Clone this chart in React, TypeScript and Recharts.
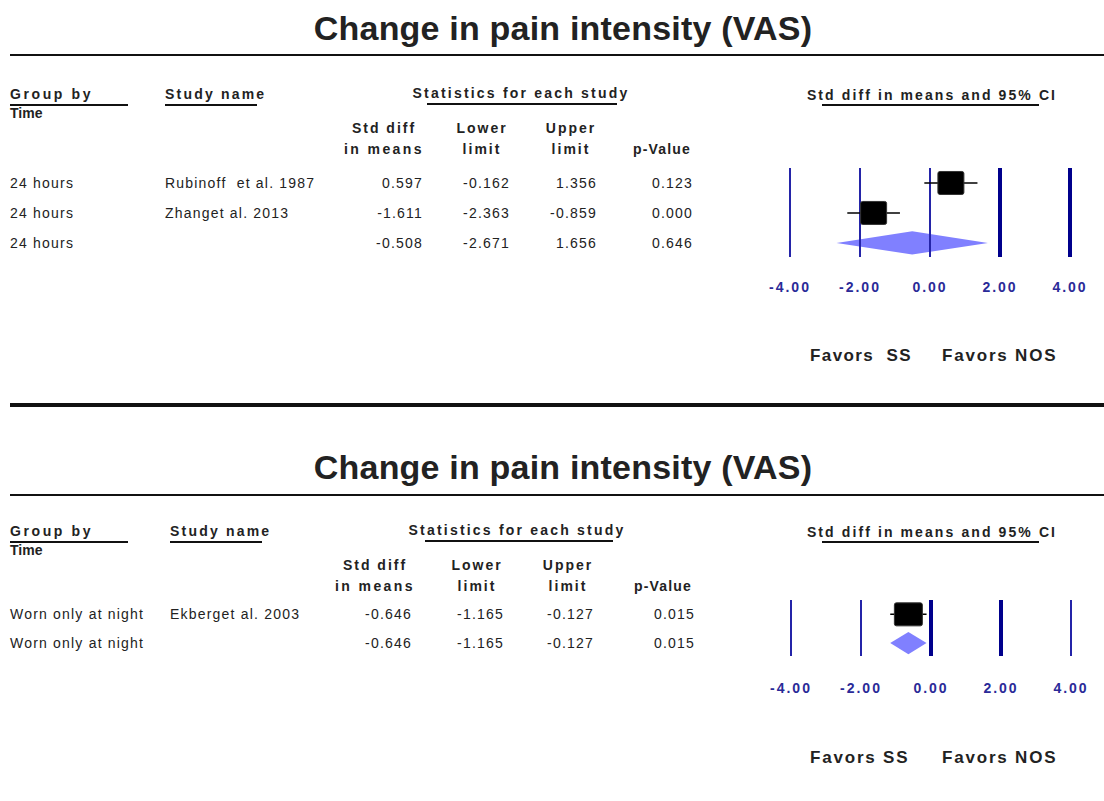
import React from 'react';
import {
  ComposedChart,
  XAxis,
  YAxis,
  Scatter,
  Area,
  ReferenceLine,
} from 'recharts';

// axis ticks shared by both panels
const TICKS = [-4, -2, 0, 2, 4];

// panel 1: 24 hours
const TOP_GROUPS = ['24 hours', '24 hours', '24 hours'];
const TOP_NAMES = ['Rubinoff  et al. 1987', 'Zhanget al. 2013', ''];
const TOP_SMD = [0.597, -1.611, -0.508];
const TOP_LOWER = [-0.162, -2.363, -2.671];
const TOP_UPPER = [1.356, -0.859, 1.656];
const TOP_P = ['0.123', '0.000', '0.646'];

// panel 2: worn only at night
const BOT_GROUPS = ['Worn only at night', 'Worn only at night'];
const BOT_NAMES = ['Ekberget al. 2003', ''];
const BOT_SMD = [-0.646, -0.646];
const BOT_LOWER = [-1.165, -1.165];
const BOT_UPPER = [-0.127, -0.127];
const BOT_P = ['0.015', '0.015'];

const FONT = '"Liberation Sans", Arial, sans-serif';
const TEXT = '#222';
const AXIS_BLUE = '#2a2a98';

type Anchor = 'start' | 'middle' | 'end';

function T({
  x,
  y,
  children,
  anchor = 'start',
  size = 14,
  bold = false,
  spacing,
}: {
  x: number;
  y: number;
  children: React.ReactNode;
  anchor?: Anchor;
  size?: number;
  bold?: boolean;
  spacing?: number;
}) {
  const tx = anchor === 'start' ? '0' : anchor === 'middle' ? '-50%' : '-100%';
  const ls = spacing ?? (bold ? 2 : 1.2);
  return (
    <div
      style={{
        position: 'absolute',
        left: x,
        top: y,
        transform: `translate(${tx}, -50%)`,
        whiteSpace: 'pre',
        fontFamily: FONT,
        fontSize: size,
        fontWeight: bold ? 700 : 400,
        letterSpacing: ls,
        marginRight: anchor === 'end' ? -ls : 0,
        color: TEXT,
        lineHeight: 1,
      }}
    >
      {children}
    </div>
  );
}

function HLine({ x1, x2, y, w = 2 }: { x1: number; x2: number; y: number; w?: number }) {
  return (
    <div
      style={{
        position: 'absolute',
        left: x1,
        top: y - w / 2,
        width: x2 - x1,
        height: w,
        background: '#111',
      }}
    />
  );
}

interface PlotProps {
  left: number;
  top: number;
  plotHeight: number;
  yDomain: [number, number];
  smd: number[];
  lower: number[];
  upper: number[];
  thick: number[];
  boxW: number;
  boxH: number;
  tickMargin: number;
}

function ForestPlot({
  left,
  top,
  plotHeight,
  yDomain,
  smd,
  lower,
  upper,
  thick,
  boxW,
  boxH,
  tickMargin,
}: PlotProps) {
  const n = smd.length;
  const studies = smd.slice(0, n - 1).map((v, i) => ({ x: v, y: i + 1 }));
  const r = n;
  const half = 0.39;
  const diamond = [
    { x: lower[n - 1], band: [r, r] },
    { x: smd[n - 1], band: [r - half, r + half] },
    { x: upper[n - 1], band: [r, r] },
  ];
  const marginTop = 10;
  return (
    <div style={{ position: 'absolute', left, top }}>
      <ComposedChart
        width={340}
        height={marginTop + plotHeight + 40}
        margin={{ top: marginTop, right: 30, left: 30, bottom: 0 }}
      >
        <XAxis
          type="number"
          dataKey="x"
          domain={[-4, 4]}
          ticks={TICKS}
          tickFormatter={(v: number) => v.toFixed(2)}
          axisLine={false}
          tickLine={false}
          tickSize={0}
          tickMargin={tickMargin}
          height={40}
          allowDataOverflow
          tick={{
            fill: AXIS_BLUE,
            fontSize: 14,
            fontWeight: 700,
            fontFamily: FONT,
            letterSpacing: 2,
          }}
        />
        <YAxis type="number" dataKey="y" domain={yDomain} reversed hide allowDataOverflow />
        {TICKS.map((t) => (
          <ReferenceLine
            key={t}
            x={t}
            stroke={thick.includes(t) ? '#00008c' : '#2424a8'}
            strokeWidth={thick.includes(t) ? 4 : 2}
          />
        ))}
        <Area
          data={diamond}
          dataKey="band"
          type="linear"
          fill="#8080ff"
          fillOpacity={1}
          stroke="none"
          isAnimationActive={false}
        />
        {studies.map((s, i) => (
          <ReferenceLine
            key={`ci${i}`}
            segment={[
              { x: lower[i], y: s.y },
              { x: upper[i], y: s.y },
            ]}
            stroke="#000"
            strokeWidth={1.5}
          />
        ))}
        <Scatter
          data={studies}
          fill="#000"
          isAnimationActive={false}
          shape={(p: any) => (
            <rect
              x={p.cx - boxW / 2}
              y={p.cy - boxH / 2}
              width={boxW}
              height={boxH}
              rx={2}
              fill="#000"
              stroke="#333"
            />
          )}
        />
      </ComposedChart>
    </div>
  );
}

interface PanelProps {
  y0: number;
  studyX: number;
  statsCenter: number;
  statsLine: [number, number];
  colCenters: number[];
  colRights: number[];
  groups: string[];
  names: string[];
  smd: number[];
  lower: number[];
  upper: number[];
  p: string[];
  rowY: number[];
}

function Table({
  y0,
  studyX,
  statsCenter,
  statsLine,
  colCenters,
  colRights,
  groups,
  names,
  smd,
  lower,
  upper,
  p,
  rowY,
}: PanelProps) {
  const fmt = (v: number) => v.toFixed(3);
  return (
    <>
      <T x={10} y={y0} bold spacing={2.6}>
        Group by
      </T>
      <HLine x1={10} x2={128} y={y0 + 11} />
      <T x={10} y={y0 + 19} bold spacing={0}>
        Time
      </T>
      <T x={studyX} y={y0} bold spacing={2.2}>
        Study name
      </T>
      <HLine x1={studyX} x2={studyX + 92} y={y0 + 11} />
      <T x={statsCenter} y={y0 - 1} anchor="middle" bold spacing={2.2}>
        Statistics for each study
      </T>
      <HLine x1={statsLine[0]} x2={statsLine[1]} y={y0 + 10} />
      <T x={colCenters[0]} y={y0 + 34} anchor="middle" bold>
        Std diff
      </T>
      <T x={colCenters[0]} y={y0 + 55} anchor="middle" bold spacing={2.4}>
        in means
      </T>
      <T x={colCenters[1]} y={y0 + 34} anchor="middle" bold>
        Lower
      </T>
      <T x={colCenters[1]} y={y0 + 55} anchor="middle" bold>
        limit
      </T>
      <T x={colCenters[2]} y={y0 + 34} anchor="middle" bold>
        Upper
      </T>
      <T x={colCenters[2]} y={y0 + 55} anchor="middle" bold>
        limit
      </T>
      <T x={colCenters[3]} y={y0 + 55} anchor="middle" bold spacing={1.2}>
        p-Value
      </T>
      {rowY.map((ry, i) => (
        <React.Fragment key={i}>
          <T x={10} y={ry}>
            {groups[i]}
          </T>
          <T x={studyX} y={ry}>
            {names[i]}
          </T>
          <T x={colRights[0]} y={ry} anchor="end">
            {fmt(smd[i])}
          </T>
          <T x={colRights[1]} y={ry} anchor="end">
            {fmt(lower[i])}
          </T>
          <T x={colRights[2]} y={ry} anchor="end">
            {fmt(upper[i])}
          </T>
          <T x={colRights[3]} y={ry} anchor="end">
            {p[i]}
          </T>
        </React.Fragment>
      ))}
      <T x={932} y={y0 + 1} anchor="middle" bold spacing={2.1}>
        Std diff in means and 95% CI
      </T>
      <HLine x1={822} x2={1039} y={y0 + 11} />
    </>
  );
}

export default function App() {
  return (
    <div
      style={{
        position: 'absolute',
        left: 0,
        top: 0,
        width: 1104,
        height: 801,
        background: '#fff',
        overflow: 'hidden',
      }}
    >
      {/* panel 1 */}
      <T x={563} y={28} anchor="middle" size={34} bold spacing={0.2}>
        Change in pain intensity (VAS)
      </T>
      <HLine x1={10} x2={1104} y={55} />
      <Table
        y0={94}
        studyX={165}
        statsCenter={521}
        statsLine={[427, 617]}
        colCenters={[384, 482, 571, 662]}
        colRights={[423, 510, 597, 693]}
        groups={TOP_GROUPS}
        names={TOP_NAMES}
        smd={TOP_SMD}
        lower={TOP_LOWER}
        upper={TOP_UPPER}
        p={TOP_P}
        rowY={[183, 213, 243]}
      />
      <ForestPlot
        left={760}
        top={158}
        plotHeight={89}
        yDomain={[0.5, 3.47]}
        smd={TOP_SMD}
        lower={TOP_LOWER}
        upper={TOP_UPPER}
        thick={[2, 4]}
        boxW={26}
        boxH={23}
        tickMargin={25}
      />
      <T x={810} y={355} size={17} bold spacing={1.4}>
        Favors  SS
      </T>
      <T x={942} y={355} size={17} bold spacing={1.8}>
        Favors NOS
      </T>

      <HLine x1={10} x2={1104} y={405} w={4} />

      {/* panel 2 */}
      <T x={563} y={467} anchor="middle" size={34} bold spacing={0.2}>
        Change in pain intensity (VAS)
      </T>
      <HLine x1={10} x2={1104} y={495} />
      <Table
        y0={531}
        studyX={170}
        statsCenter={517}
        statsLine={[425, 613]}
        colCenters={[375, 477, 568, 663]}
        colRights={[412, 504, 594, 695]}
        groups={BOT_GROUPS}
        names={BOT_NAMES}
        smd={BOT_SMD}
        lower={BOT_LOWER}
        upper={BOT_UPPER}
        p={BOT_P}
        rowY={[614, 643]}
      />
      <ForestPlot
        left={761}
        top={590}
        plotHeight={56}
        yDomain={[0.5, 2.45]}
        smd={BOT_SMD}
        lower={BOT_LOWER}
        upper={BOT_UPPER}
        thick={[0, 2]}
        boxW={28}
        boxH={23}
        tickMargin={27}
      />
      <T x={810} y={757} size={17} bold spacing={1.8}>
        Favors SS
      </T>
      <T x={942} y={757} size={17} bold spacing={1.8}>
        Favors NOS
      </T>
    </div>
  );
}
